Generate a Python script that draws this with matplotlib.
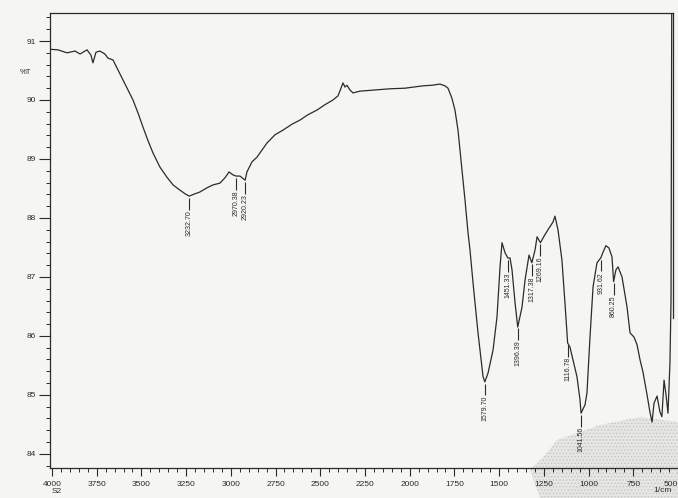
import numpy as np
import matplotlib
matplotlib.use("Agg")
import matplotlib.pyplot as plt
from matplotlib.patches import Polygon
from matplotlib.ticker import MultipleLocator

# IR spectrum (wavenumber 1/cm, %T)
wavenumber = [4010, 3966, 3916, 3871, 3843, 3804, 3782, 3771, 3754, 3732, 3704, 3687,
              3659, 3631, 3603, 3575, 3547, 3519, 3491, 3463, 3435, 3396, 3357, 3323,
              3284, 3256, 3233, 3200, 3173, 3134, 3100, 3061, 3033, 3010, 2988, 2970,
              2949, 2920, 2910, 2882, 2854, 2826, 2798, 2753, 2708, 2658, 2613, 2569,
              2518, 2474, 2429, 2401, 2384, 2373, 2362, 2351, 2334, 2317, 2278, 2194,
              2110, 2026, 1926, 1875, 1831, 1803, 1786, 1764, 1747, 1730, 1719, 1702,
              1691, 1674, 1663, 1646, 1618, 1590, 1580, 1562, 1534, 1512, 1495, 1484,
              1467, 1451, 1439, 1428, 1411, 1396, 1372, 1355, 1333, 1317, 1299, 1288,
              1269, 1249, 1227, 1199, 1188, 1171, 1149, 1132, 1117, 1104, 1087, 1065,
              1048, 1042, 1020, 1009, 992, 975, 953, 932, 919, 903, 886, 869, 860, 847,
              835, 813, 785, 768, 746, 729, 712, 696, 673, 657, 645, 634, 617, 601, 590,
              578, 567, 556, 545, 539, 537, 535]
transmit = [90.86, 90.85, 90.80, 90.83, 90.78, 90.85, 90.76, 90.63, 90.81, 90.83, 90.78, 90.71,
            90.68, 90.51, 90.34, 90.17, 90.00, 89.78, 89.54, 89.31, 89.10, 88.86, 88.69, 88.56,
            88.47, 88.41, 88.37, 88.41, 88.44, 88.51, 88.56, 88.59, 88.68, 88.78, 88.73, 88.71,
            88.71, 88.64, 88.78, 88.95, 89.03, 89.15, 89.27, 89.41, 89.49, 89.59, 89.66, 89.75,
            89.83, 89.92, 90.00, 90.07, 90.20, 90.29, 90.22, 90.25, 90.17, 90.12, 90.15, 90.17,
            90.19, 90.20, 90.24, 90.25, 90.27, 90.24, 90.20, 90.03, 89.83, 89.49, 89.15, 88.64,
            88.31, 87.75, 87.46, 86.90, 86.05, 85.31, 85.22, 85.37, 85.76, 86.32, 87.17, 87.58,
            87.41, 87.32, 87.32, 87.12, 86.56, 86.15, 86.49, 86.95, 87.37, 87.24, 87.46, 87.68,
            87.58, 87.69, 87.80, 87.93, 88.03, 87.80, 87.29, 86.56, 85.88, 85.81, 85.59, 85.31,
            84.92, 84.69, 84.83, 85.03, 85.98, 86.83, 87.24, 87.32, 87.42, 87.53, 87.49, 87.34, 86.92, 87.12,
            87.17, 87.00, 86.49, 86.05, 85.98, 85.85, 85.59, 85.39, 85.00, 84.71, 84.54, 84.86, 84.98, 84.71, 84.63,
            85.25, 85.00, 84.69, 85.54, 86.60, 89.15, 91.60]

# peak labels
peak_pos = [3232.70, 2970.38, 2920.23, 1579.70, 1451.33, 1396.39, 1317.38, 1269.16,
            1116.78, 1041.56, 931.62, 860.25]
peak_txt = ["3232.70", "2970.38", "2920.23", "1579.70", "1451.33", "1396.39", "1317.38",
            "1269.16", "1116.78", "1041.56", "931.62", "860.25"]

x_ticks = [4000, 3750, 3500, 3250, 3000, 2750, 2500, 2250, 2000, 1750, 1500, 1250, 1000, 750, 500]
y_ticks = [84, 85, 86, 87, 88, 89, 90, 91]

ink = "#2b2b2b"
paper = "#f5f5f3"
plt.rcParams['font.family'] = ['Liberation Sans', 'DejaVu Sans']
plt.rcParams['hatch.linewidth'] = 0.6

fig = plt.figure(figsize=(6.78, 4.98), dpi=100, facecolor=paper)

# grey speckled scan artefact in the lower right corner (behind everything)
pts = [(557, 440), (600, 425), (640, 417), (678, 422), (678, 498), (540, 498), (530, 470), (545, 455)]
patch = Polygon([(x / 678, 1 - y / 498) for x, y in pts], closed=True, transform=fig.transFigure,
                facecolor="#e6e6e4", edgecolor="#c4c4c2", lw=0, hatch=".....", zorder=-5)
fig.patches.append(patch)

ax = fig.add_axes([50 / 678, 30 / 498, 628 / 678, 455 / 498])
ax.patch.set_alpha(0)
ax.set_zorder(1)

ax.plot(wavenumber, transmit, color=ink, lw=0.9)

ax.set_xlim(4011, 500)
ax.set_ylim(83.76, 91.475)

# labels under the peaks
wn = np.array(wavenumber)[::-1]
tr = np.array(transmit)[::-1]
for p, s in zip(peak_pos, peak_txt):
    yv = np.interp(p, wn, tr) - 0.03
    ax.vlines(p, yv - 0.2, yv, color=ink, lw=0.8)
    ax.text(p, yv - 0.21, s, rotation=90, ha="center", va="top", fontsize=5, color=ink)

# frame (top and right line of the recorder chart)
ax.spines["top"].set_visible(False)
ax.spines["right"].set_visible(False)
for sp in ("left", "bottom"):
    ax.spines[sp].set_color(ink)
    ax.spines[sp].set_linewidth(0.9)
ax.plot([4011, 528], [91.475, 91.475], color=ink, lw=0.9, clip_on=False)
ax.plot([528, 528], [86.3, 91.475], color=ink, lw=0.9, clip_on=False)

ax.set_xticks(x_ticks)
ax.set_yticks(y_ticks)
ax.xaxis.set_minor_locator(MultipleLocator(50))
ax.yaxis.set_minor_locator(MultipleLocator(0.2))
ax.tick_params(axis="x", which="major", length=6, width=0.8, color=ink, labelsize=6, pad=3, labelcolor=ink)
ax.tick_params(axis="x", which="minor", length=3, width=0.7, color=ink)
ax.tick_params(axis="y", which="major", length=8, width=0.8, color=ink, labelsize=6, pad=2, labelcolor=ink)
ax.tick_params(axis="y", which="minor", length=3, width=0.7, color=ink)
# last label sits at the paper edge; keep it inside
ax.get_xticklabels()[-1].set_horizontalalignment("right")

fig.text(25 / 678, 1 - 72 / 498, "%T", fontsize=5.5, color=ink, ha="center", va="center")
fig.text(57 / 678, 1 - 491 / 498, "S2", fontsize=6, color=ink, ha="center", va="center")
fig.text(663 / 678, 1 - 490 / 498, "1/cm", fontsize=6, color=ink, ha="center", va="center")

fig.savefig("out.png", dpi=100, facecolor=paper)
